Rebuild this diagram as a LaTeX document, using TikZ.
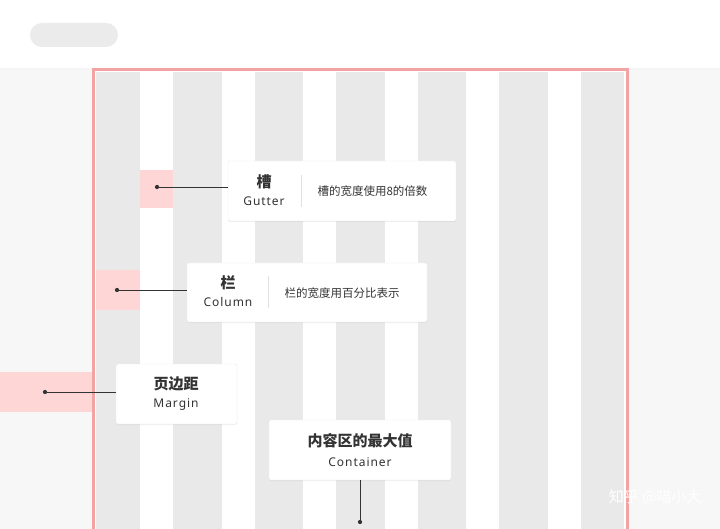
\documentclass[tikz,border=0pt]{standalone}
\usepackage{fontspec}
\setmainfont{Noto Sans}
\newfontfamily\cjk{Noto Sans CJK SC}
\usetikzlibrary{positioning,shadows}
\definecolor{pagebg}{HTML}{F7F7F7}
\definecolor{colgray}{HTML}{E9E9E9}
\definecolor{hilite}{HTML}{FFD6D6}
\definecolor{frame}{HTML}{F4A3A3}
\definecolor{ink}{HTML}{333333}
\tikzset{
  labelbox/.style={draw=black!8,fill=white,rounded corners=2pt,drop shadow={opacity=0.12,shadow xshift=0pt,shadow yshift=-1pt}},
  pin/.style={fill=ink,circle,inner sep=1.5pt},
  leader/.style={draw=ink,line width=0.7pt},
  title/.style={font=\cjk\bfseries\fontsize{15}{15}\selectfont,text=ink},
  sub/.style={font=\addfontfeature{LetterSpace=8}\fontsize{12}{12}\selectfont,text=ink},
  note/.style={font=\cjk\fontsize{11.5}{11.5}\selectfont,text=ink}
}
\begin{document}
\begin{tikzpicture}[x=1pt,y=-1pt]
  \useasboundingbox (0,0) rectangle (720,529);
  \fill[pagebg] (0,0) rectangle (720,529);
  % top bar
  \fill[white] (0,0) rectangle (720,68);
  \fill[black!4] (0,68) rectangle (720,70);
  \fill[black!8,rounded corners=12pt] (30,23) rectangle (118,47);
  % grid columns
  \fill[white] (93,70) rectangle (627,529);
  \foreach \l/\r in {96/140,173/222,255/303,336/385,418/466,499/548,581/624}
    \fill[colgray] (\l,72) rectangle (\r,529);
  % highlights
  \fill[hilite] (140,170) rectangle (173,208);
  \fill[hilite] (96,270) rectangle (140,310);
  \fill[hilite] (0,372) rectangle (93,412);
  % container frame
  \draw[frame,line width=3pt] (93,529) -- (93,70) -- (627,70) -- (627,529);
  % gutter
  \node[labelbox,minimum width=228,minimum height=60] (gbox) at (342,191) {};
  \node[title] (gtitle) at (264,182) {槽};
  \node[sub] (gsub) at (264,201) {Gutter};
  \draw[black!12] (301,175) -- (301,207);
  \node[note,anchor=west] (gnote) at (314,191) {槽的宽度使用8的倍数};
  \node[pin] (gpin) at (157,187) {};
  \draw[leader] (gpin) -- (gpin -| gbox.west);
  % column
  \node[labelbox,minimum width=240,minimum height=59] (cbox) at (307,292.5) {};
  \node[title] (ctitle) at (228,283) {栏};
  \node[sub] (csub) at (228,302) {Column};
  \draw[black!12] (268,276) -- (268,308);
  \node[note,anchor=west] (cnote) at (281,293) {栏的宽度用百分比表示};
  \node[pin] (cpin) at (117,290) {};
  \draw[leader] (cpin) -- (cpin -| cbox.west);
  % margin
  \node[labelbox,minimum width=121,minimum height=60] (mbox) at (176.5,394) {};
  \node[title] (mtitle) at (176,384) {页边距};
  \node[sub] (msub) at (176,405) {Margin};
  \node[pin] (mpin) at (45,392) {};
  \draw[leader] (mpin) -- (mpin -| mbox.west);
  % container
  \node[labelbox,minimum width=182,minimum height=60] (kbox) at (360,450) {};
  \node[title] (ktitle) at (360,441) {内容区的最大值};
  \node[sub] (ksub) at (360,462) {Container};
  \node[pin] (kpin) at (360,522) {};
  \draw[leader] (kbox.south) -- (kpin);
  % watermark
  \node[font=\cjk\fontsize{15}{15}\selectfont,text=white,anchor=east] (mark) at (705,497) {知乎 @喵小大};
\end{tikzpicture}
\end{document}
